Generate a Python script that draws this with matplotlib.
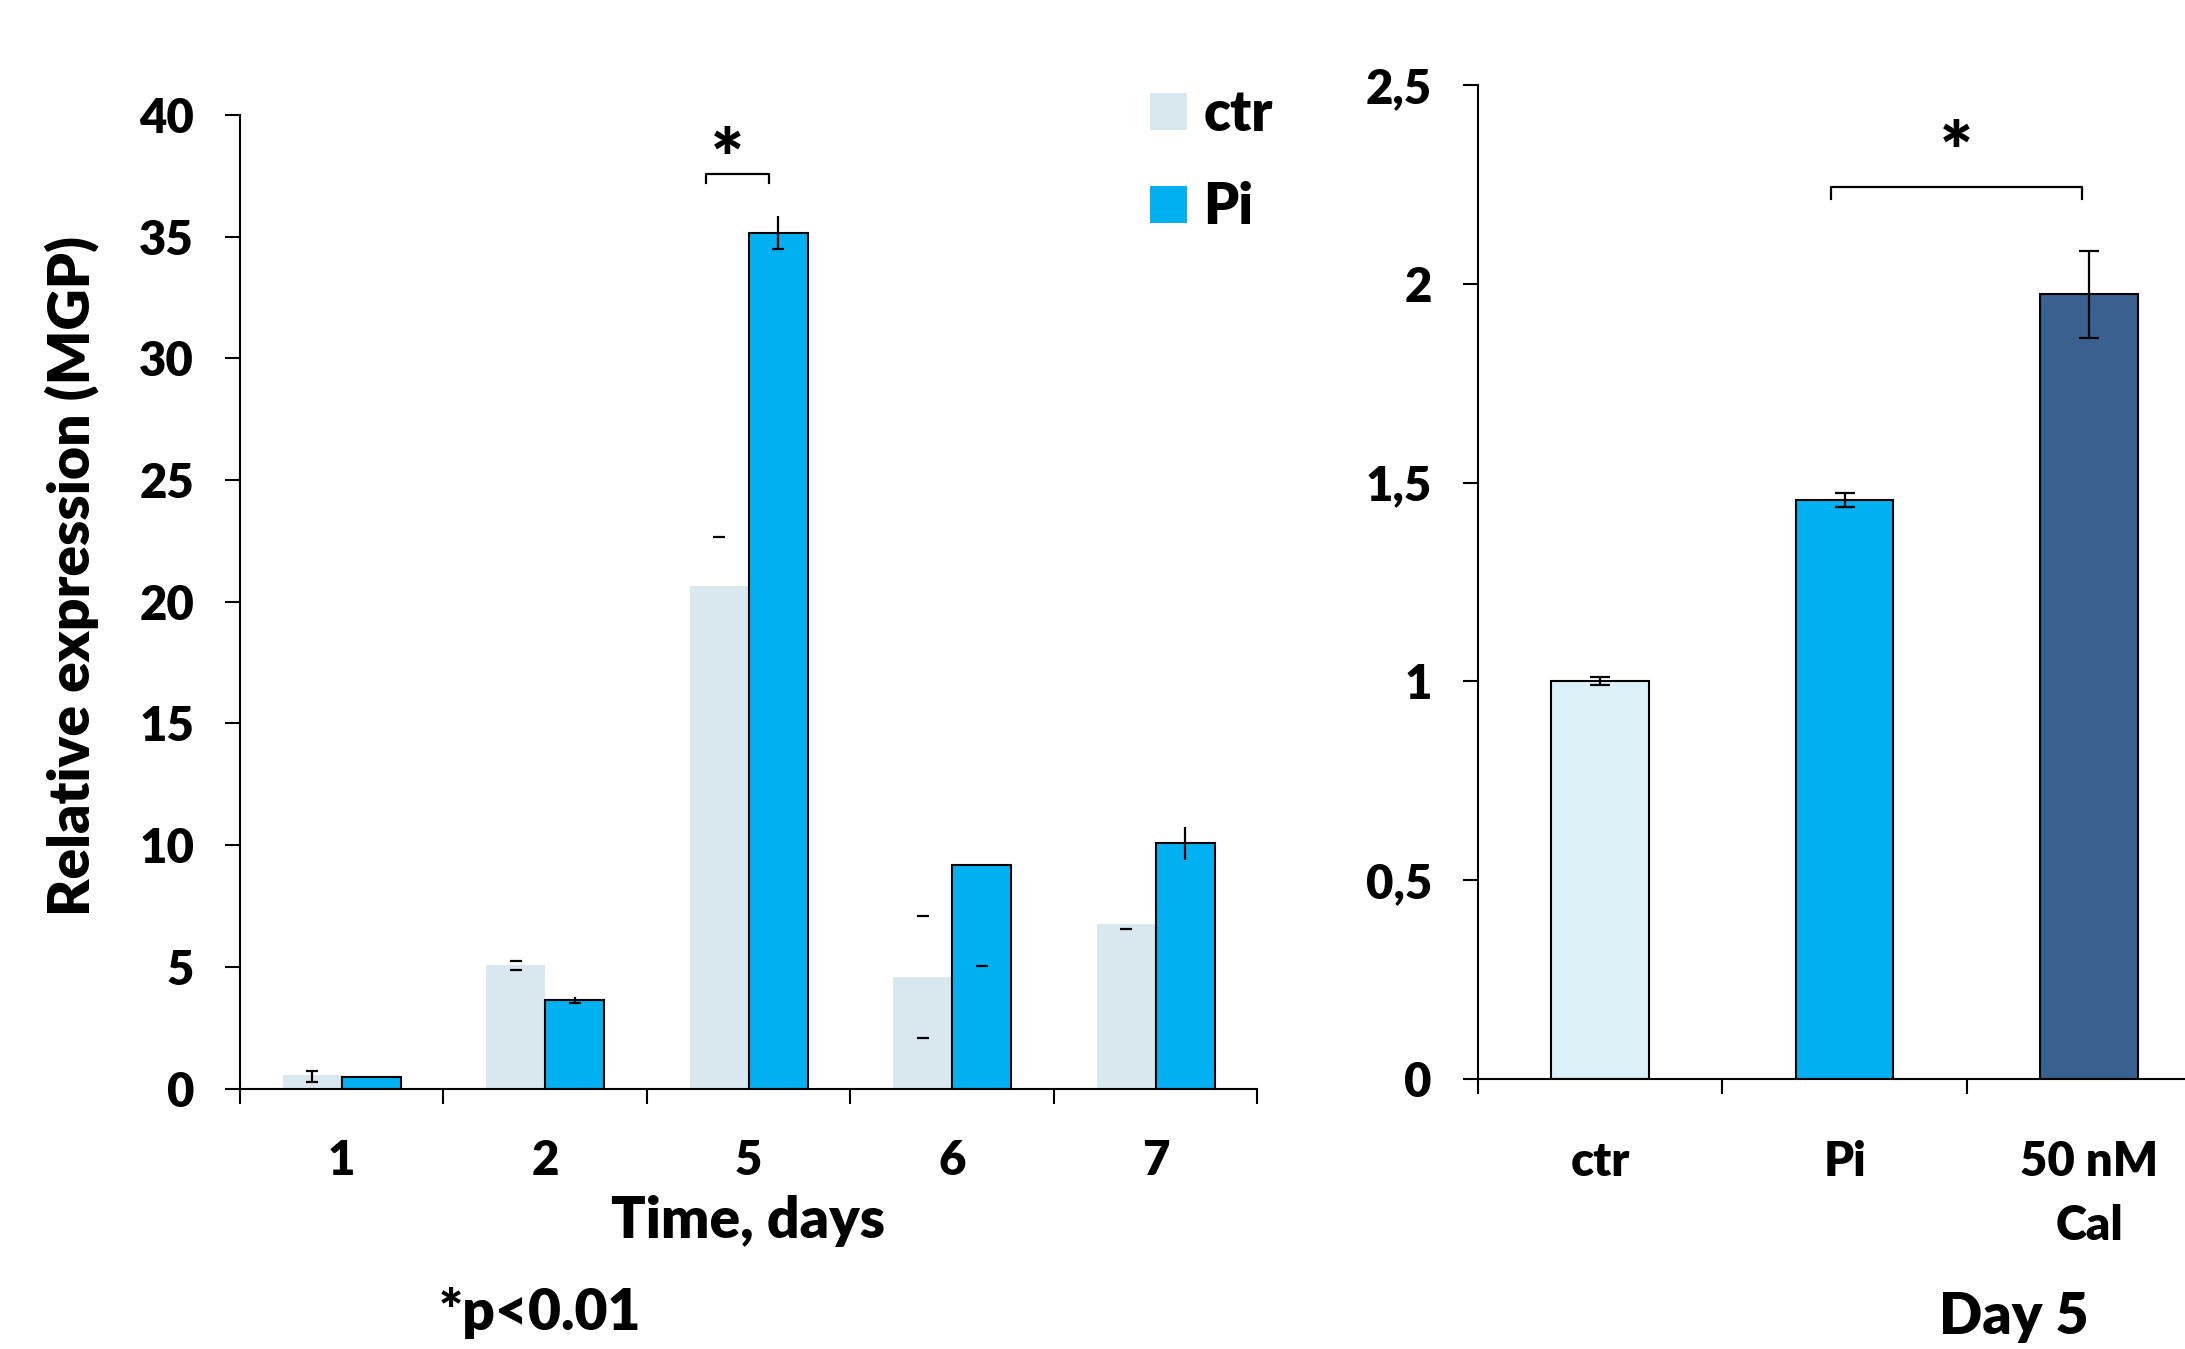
import matplotlib.pyplot as plt
from matplotlib.patches import Patch
import numpy as np

# left panel: MGP expression over time
days = ["1", "2", "5", "6", "7"]
ctr_mean = [0.55, 5.06, 20.63, 4.59, 6.78]
pi_mean = [0.46, 3.65, 35.17, 9.2, 10.09]
ctr_err_lo = [0.3, 0.18, 2.05, 2.5, 0.22]
ctr_err_hi = [0.16, 0.18, 2.05, 2.5, 0.0]
pi_err_lo = [0.0, 0.15, 0.69, 4.18, 0.69]
pi_err_hi = [0.0, 0.1, 0.68, 0.0, 0.66]
# which parts of each (oddly rendered) error bar are visible
ctr_line = [True, False, False, False, False]
ctr_cap_lo = [True, True, False, True, True]
ctr_cap_hi = [True, True, True, True, False]
pi_line = [False, True, True, False, True]
pi_cap_lo = [False, True, True, True, False]
pi_cap_hi = [False, False, False, False, False]
sig_left = (1.79, 2.10, 37.58, 37.2, 38.0)  # x0, x1, y, tip y, star y

# right panel: day 5 treatments
groups = ["ctr", "Pi", "50 nM\nCal"]
day5_mean = [1.0, 1.456, 1.973]
day5_err = [0.01, 0.018, 0.11]
sig_right = (0.943, 1.97, 2.244, 2.213, 2.32)

C_CTR = "#d9e8ee"
C_CTR_R = "#dbf1f7"
C_PI = "#00b0f0"
C_CAL = "#386190"
FONT = ["Lato", "DejaVu Sans"]

plt.rcParams["font.family"] = FONT
plt.rcParams["font.weight"] = "heavy"


def draw_errors(ax, xs, means, lo, hi, line, cap_lo, cap_hi, half_w=0.03):
    for x, m, l, h, sl, cl, ch in zip(xs, means, lo, hi, line, cap_lo, cap_hi):
        if sl:
            ax.vlines(x, m - l, m + h, color="black", lw=1.6, zorder=4)
        if cl:
            ax.hlines(m - l, x - half_w, x + half_w, color="black", lw=1.6, zorder=4)
        if ch:
            ax.hlines(m + h, x - half_w, x + half_w, color="black", lw=1.6, zorder=4)


def style_axis(ax, n_cat, labels, tick_size, label_pad):
    for s in ("top", "right"):
        ax.spines[s].set_visible(False)
    for s in ("left", "bottom"):
        ax.spines[s].set_linewidth(1.5)
    ax.set_xlim(-0.5, n_cat - 0.5)
    ax.set_xticks(np.arange(n_cat + 1) - 0.5)
    ax.set_xticklabels([])
    ax.set_xticks(np.arange(n_cat), minor=True)
    ax.set_xticklabels(labels, minor=True, fontsize=tick_size, fontweight="heavy",
                       linespacing=1.55, va="top")
    ax.tick_params(axis="x", which="major", direction="out", length=11, width=1.5)
    ax.tick_params(axis="x", which="minor", length=0, pad=label_pad)
    ax.tick_params(axis="y", direction="out", length=11, width=1.5, pad=22,
                   labelsize=tick_size)
    for t in ax.get_yticklabels():
        t.set_fontweight("heavy")


fig = plt.figure(figsize=(21.85, 13.49), dpi=100)

# ---- left panel
ax = fig.add_axes([0.1098, 0.1931, 0.4657, 0.7216])
x = np.arange(len(days))
w = 0.29
ax.bar(x - w / 2, ctr_mean, w, color=C_CTR, edgecolor="none", zorder=2)
ax.bar(x + w / 2, pi_mean, w, color=C_PI, edgecolor="black", lw=1.5, zorder=2)
draw_errors(ax, x - w / 2, ctr_mean, ctr_err_lo, ctr_err_hi,
            ctr_line, ctr_cap_lo, ctr_cap_hi)
draw_errors(ax, x + w / 2, pi_mean, pi_err_lo, pi_err_hi,
            pi_line, pi_cap_lo, pi_cap_hi)
ax.set_ylim(0, 40)
ax.set_yticks(np.arange(0, 41, 5))
style_axis(ax, len(days), days, 34, 36)

x0, x1, yb, yt, ys = sig_left
ax.plot([x0, x0, x1, x1], [yt, yb, yb, yt], color="black", lw=1.6,
        clip_on=False)
ax.text((x0 + x1) / 2 - 0.05, ys, "*", ha="center", va="center", fontsize=56,
        clip_on=False)

fig.text(0.033, 0.573, "Relative expression (MGP)", rotation=90, ha="center",
         va="center", fontsize=41)
fig.text(0.3425, 0.095, "Time, days", ha="center", va="center", fontsize=41)
fig.text(0.247, 0.027, "*p<0.01", ha="center", va="center", fontsize=41)

handles = [Patch(facecolor=C_CTR, edgecolor="none"),
           Patch(facecolor=C_PI, edgecolor="none")]
fig.legend(handles, ["ctr", "Pi"], loc="upper left",
           bbox_to_anchor=(0.5265, 0.935), frameon=False, fontsize=40,
           handlelength=0.65, handleheight=0.65, handletextpad=0.3,
           labelspacing=0.75, borderpad=0, borderaxespad=0)

# ---- right panel (axis runs past the figure edge, as in the original)
ax2 = fig.add_axes([0.6763, 0.2001, 0.3358, 0.737])
xr = np.arange(len(groups))
ax2.bar(xr, day5_mean, 0.4, color=[C_CTR_R, C_PI, C_CAL], edgecolor="black",
        lw=1.5, zorder=2)
ax2.errorbar(xr, day5_mean, yerr=day5_err, fmt="none", ecolor="black",
             elinewidth=1.6, capsize=7, capthick=1.6, zorder=3)
ax2.set_ylim(0, 2.5)
ax2.set_yticks([0, 0.5, 1, 1.5, 2, 2.5])
ax2.set_yticklabels(["0", "0,5", "1", "1,5", "2", "2,5"])
style_axis(ax2, len(groups), groups, 34, 44)
ax2.spines["bottom"].set_bounds(-0.5, 2.6)

x0, x1, yb, yt, ys = sig_right
ax2.plot([x0, x0, x1, x1], [yt, yb, yb, yt], color="black", lw=1.6,
         clip_on=False)
ax2.text((x0 + x1) / 2, ys, "*", ha="center", va="center", fontsize=56,
         clip_on=False)

fig.text(0.9216, 0.024, "Day 5", ha="center", va="center", fontsize=41)

fig.savefig("out.png", dpi=100)
